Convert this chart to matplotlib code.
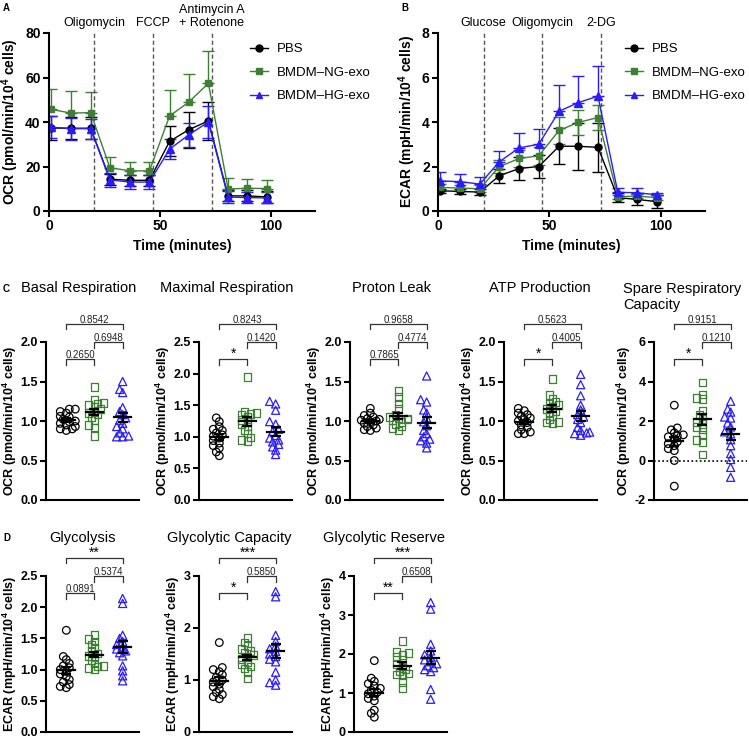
import matplotlib.pyplot as plt
import numpy as np
from matplotlib.lines import Line2D

plt.rcParams['font.family'] = ['Liberation Sans', 'DejaVu Sans']
plt.rcParams['mathtext.fontset'] = 'custom'
plt.rcParams['mathtext.rm'] = 'Liberation Sans'
plt.rcParams['mathtext.bf'] = 'Liberation Sans:bold'

W, H = 749, 738

groups = ["PBS", "BMDM–NG-exo", "BMDM–HG-exo"]
colors = ["black", "#3f7f35", "#2a1cff"]
line_markers = ["o", "s", "^"]

# time course (A, B)
minutes = [1.0, 9.8, 18.8, 27.5, 36.5, 45.3, 54.4, 63.0, 71.9, 80.8, 89.5, 98.4]
inject_a = [20.5, 46.7, 73.4]
inject_a_names = ["Oligomycin", "FCCP", "Antimycin A\n+ Rotenone"]
inject_b_names = ["Glucose", "Oligomycin", "2-DG"]

ocr_pbs = [37.3, 37.2, 37.2, 14.3, 13.8, 13.8, 31.3, 36.5, 40.5, 6.8, 6.8, 6.3]
ocr_ng = [45.7, 44.0, 44.2, 19.4, 18.1, 18.0, 42.7, 48.9, 57.4, 9.9, 10.2, 10.1]
ocr_hg = [37.7, 37.0, 37.0, 14.0, 13.0, 13.0, 27.8, 34.2, 40.0, 6.3, 6.0, 5.9]
ocr_pbs_err = [5.5, 5.0, 5.0, 2.5, 2.5, 2.5, 6.8, 8.0, 8.5, 2.5, 2.5, 2.5]
ocr_ng_err = [9.0, 10.0, 9.5, 5.0, 4.0, 4.0, 11.5, 12.5, 14.5, 5.0, 4.0, 4.0]
ocr_hg_err = [5.0, 5.0, 4.5, 3.0, 3.0, 3.0, 4.5, 5.3, 7.0, 2.5, 2.5, 2.5]

ecar_pbs = [0.91, 0.88, 0.85, 1.58, 1.91, 2.00, 2.91, 2.91, 2.86, 0.60, 0.52, 0.42]
ecar_ng = [1.06, 1.03, 1.00, 1.99, 2.36, 2.48, 3.62, 3.98, 4.20, 0.64, 0.67, 0.60]
ecar_hg = [1.35, 1.32, 1.21, 2.21, 2.84, 3.00, 4.48, 4.87, 5.16, 0.84, 0.82, 0.73]
ecar_pbs_err = [0.10, 0.10, 0.15, 0.30, 0.50, 0.50, 0.80, 1.05, 1.10, 0.20, 0.25, 0.30]
ecar_ng_err = [0.15, 0.15, 0.15, 0.30, 0.40, 0.40, 0.60, 0.55, 0.55, 0.10, 0.10, 0.10]
ecar_hg_err = [0.40, 0.35, 0.30, 0.50, 0.67, 0.70, 1.20, 1.20, 1.35, 0.20, 0.20, 0.10]

# per-animal values (C, D)
basal_pbs = [1.15, 1.15, 1.12, 1.10, 1.06, 1.05, 1.02, 1.00, 0.99, 0.97, 0.95, 0.93, 0.90, 0.90, 0.88]
basal_ng = [1.43, 1.27, 1.23, 1.22, 1.20, 1.18, 1.15, 1.12, 1.10, 1.08, 1.05, 1.01, 0.95, 0.92, 0.81]
basal_hg = [1.50, 1.40, 1.36, 1.17, 1.12, 1.08, 1.04, 1.01, 0.97, 0.93, 0.90, 0.85, 0.81, 0.80, 0.80]

maximal_pbs = [1.30, 1.24, 1.16, 1.12, 1.10, 1.06, 1.03, 1.01, 0.98, 0.94, 0.90, 0.86, 0.82, 0.76, 0.70]
maximal_ng = [1.95, 1.40, 1.38, 1.36, 1.35, 1.31, 1.27, 1.24, 1.20, 1.16, 1.11, 1.05, 0.99, 0.95, 0.93]
maximal_hg = [1.56, 1.52, 1.42, 1.24, 1.20, 1.12, 1.08, 1.02, 0.98, 0.95, 0.92, 0.88, 0.84, 0.79, 0.72]

proton_pbs = [1.16, 1.10, 1.07, 1.05, 1.03, 1.02, 1.01, 1.00, 0.99, 0.97, 0.95, 0.93, 0.91, 0.89, 0.88]
proton_ng = [1.38, 1.30, 1.22, 1.15, 1.08, 1.05, 1.03, 1.02, 1.03, 1.01, 0.99, 0.96, 0.93, 0.91, 0.88]
proton_hg = [1.57, 1.27, 1.24, 1.14, 1.10, 1.04, 0.99, 0.94, 0.88, 0.84, 0.80, 0.77, 0.75, 0.72, 0.66]

atp_pbs = [1.16, 1.13, 1.10, 1.08, 1.06, 1.04, 1.02, 1.00, 0.98, 0.95, 0.92, 0.89, 0.86, 0.84, 0.84]
atp_ng = [1.53, 1.33, 1.28, 1.24, 1.22, 1.20, 1.18, 1.15, 1.12, 1.10, 1.06, 1.02, 0.99, 0.98, 0.97]
atp_hg = [1.59, 1.46, 1.32, 1.20, 1.14, 1.08, 1.05, 1.02, 0.98, 0.92, 0.88, 0.86, 0.85, 0.84, 0.82]

spare_pbs = [2.80, 1.65, 1.55, 1.40, 1.30, 1.25, 1.20, 1.10, 0.95, 0.85, 0.75, 0.60, 0.50, 0.00, -1.30]
spare_ng = [3.95, 3.35, 3.15, 3.10, 2.50, 2.30, 2.10, 1.95, 1.85, 1.70, 1.60, 1.30, 1.05, 0.95, 0.30]
spare_hg = [3.00, 2.60, 2.45, 2.20, 2.15, 1.90, 1.70, 1.45, 1.35, 1.05, 0.75, 0.35, 0.05, -0.35, -0.85]

glyco_pbs = [1.63, 1.21, 1.16, 1.10, 1.06, 1.03, 1.00, 0.97, 0.93, 0.89, 0.84, 0.80, 0.76, 0.73, 0.71]
glyco_ng = [1.55, 1.49, 1.45, 1.40, 1.35, 1.30, 1.26, 1.22, 1.20, 1.15, 1.10, 1.06, 1.05, 1.03, 1.00]
glyco_hg = [2.14, 2.06, 1.55, 1.50, 1.45, 1.40, 1.36, 1.33, 1.30, 1.27, 1.22, 1.06, 0.98, 0.90, 0.82]

gcap_pbs = [1.72, 1.24, 1.20, 1.16, 1.10, 1.05, 1.00, 0.96, 0.92, 0.87, 0.82, 0.76, 0.72, 0.68, 0.64]
gcap_ng = [1.82, 1.72, 1.65, 1.60, 1.56, 1.52, 1.48, 1.44, 1.40, 1.35, 1.30, 1.26, 1.22, 1.15, 1.03]
gcap_hg = [2.70, 2.60, 1.86, 1.74, 1.65, 1.60, 1.55, 1.50, 1.45, 1.40, 1.35, 1.15, 1.00, 0.95, 0.90]

gres_pbs = [1.83, 1.38, 1.30, 1.24, 1.18, 1.12, 1.07, 1.02, 0.98, 0.92, 0.86, 0.80, 0.56, 0.48, 0.38]
gres_ng = [2.33, 2.05, 2.02, 1.98, 1.92, 1.85, 1.75, 1.68, 1.60, 1.55, 1.50, 1.47, 1.45, 1.28, 1.13]
gres_hg = [3.32, 3.15, 2.25, 2.08, 1.98, 1.92, 1.85, 1.80, 1.75, 1.70, 1.65, 1.60, 1.55, 1.09, 0.84]

# labels for PBS vs NG, NG vs HG, PBS vs HG
basal_p = ["0.2650", "0.6948", "0.8542"]
maximal_p = ["*", "0.1420", "0.8243"]
proton_p = ["0.7865", "0.4774", "0.9658"]
atp_p = ["*", "0.4005", "0.5623"]
spare_p = ["*", "0.1210", "0.9151"]
glyco_p = ["0.0891", "0.5374", "**"]
gcap_p = ["*", "0.5850", "***"]
gres_p = ["**", "0.6508", "***"]

ocr_label = "OCR (pmol/min/10$^{\\mathbf{4}}$ cells)"
ecar_label = "ECAR (mpH/min/10$^{\\mathbf{4}}$ cells)"


def rect(l, t, r, b):
    return [l / W, 1 - b / H, (r - l) / W, (b - t) / H]


def style(ax, size):
    for s in ["top", "right"]:
        ax.spines[s].set_visible(False)
    for s in ["left", "bottom"]:
        ax.spines[s].set_linewidth(1.5)
    ax.tick_params(width=1.5, length=4, labelsize=size, pad=2)
    for t in ax.get_xticklabels() + ax.get_yticklabels():
        t.set_fontweight("bold")


def swarm(vals, center, ypx, xpx, step=3.0, gap=4.2):
    vals = np.asarray(vals, float)
    xs = np.full(len(vals), float(center))
    placed = []
    for i in np.argsort(vals):
        y = vals[i] * ypx
        for k in [0, -1, 1, -2, 2, -3, 3]:
            x = k * step
            if all((x - px) ** 2 + (y - py) ** 2 >= gap ** 2 for px, py in placed):
                break
        placed.append((x, y))
        xs[i] = center + x / xpx
    return xs


fig = plt.figure(figsize=(W / 100, H / 100), dpi=100)


def time_panel(box, series, errs, up_only, ylim, yticks, ylabel, names, legend_at):
    ax = fig.add_axes(rect(*box))
    for vals, err, c, m, up in zip(series, errs, colors, line_markers, up_only):
        yerr = [np.zeros(len(err)), err] if up else err
        ax.errorbar(minutes, vals, yerr=yerr, color=c, marker=m, ms=5 if m != "^" else 5.5,
                    lw=1, elinewidth=1, capsize=4, capthick=1)
    for t, name in zip(inject_a, names):
        ax.axvline(t, color="#555555", ls=(0, (3, 2)), lw=1)
        ax.text(t, 1.025, name, transform=ax.get_xaxis_transform(), ha="center", va="bottom",
                fontsize=9, linespacing=1.05)
    ax.set_xlim(0, 120)
    ax.set_ylim(*ylim)
    ax.set_xticks([0, 50, 100])
    ax.set_yticks(yticks)
    ax.set_xlabel("Time (minutes)", fontsize=10, fontweight="bold", labelpad=4)
    ax.set_ylabel(ylabel, fontsize=10, fontweight="bold", labelpad=3)
    style(ax, 10)
    handles = [Line2D([], [], color=c, marker=m, ms=5, lw=1) for c, m in zip(colors, line_markers)]
    ax.legend(handles, groups, loc="upper left", bbox_to_anchor=(legend_at[0] / W, 1 - legend_at[1] / H),
              bbox_transform=fig.transFigure, frameon=False, fontsize=9.5, handlelength=1.4,
              labelspacing=0.85, borderaxespad=0, borderpad=0, handletextpad=0.6)
    return ax


time_panel((49, 33, 315, 211), [ocr_pbs, ocr_ng, ocr_hg], [ocr_pbs_err, ocr_ng_err, ocr_hg_err],
           [False, True, False], (0, 80), [0, 20, 40, 60, 80], ocr_label, inject_a_names, (250, 43))
time_panel((438, 33, 705, 211), [ecar_pbs, ecar_ng, ecar_hg], [ecar_pbs_err, ecar_ng_err, ecar_hg_err],
           [False, False, True], (0, 8), [0, 2, 4, 6, 8], ecar_label, inject_b_names, (625, 43))


def dot_panel(box, data, pvals, ylim, yticks, ylabel, fmt, zero_line=False):
    ax = fig.add_axes(rect(*box))
    axw, axh = box[2] - box[0], box[3] - box[1]
    xlim = (-0.72, 2.58)
    xpx = axw / (xlim[1] - xlim[0])
    ypx = axh / (ylim[1] - ylim[0])
    if zero_line:
        ax.axhline(0, color="black", ls=(0, (1, 1.5)), lw=1.2)
    mk = ["o", "s", "^"]
    for g, (vals, c, m) in enumerate(zip(data, colors, mk)):
        xs = swarm(vals, g, ypx, xpx)
        ax.scatter(xs, vals, s=30 if m != "^" else 34, marker=m, facecolors="none",
                   edgecolors=c, linewidths=0.9, zorder=3)
        mean = np.mean(vals)
        sem = np.std(vals, ddof=1) / np.sqrt(len(vals))
        ax.plot([g - 0.3, g + 0.3], [mean, mean], color="black", lw=1.6, zorder=4)
        ax.errorbar([g], [mean], yerr=[sem], color="black", lw=1.6, capsize=3.5, capthick=1.6, zorder=4)
    ax.set_xlim(*xlim)
    ax.set_ylim(*ylim)
    ax.set_xticks([])
    ax.set_yticks(yticks)
    ax.set_yticklabels([fmt.format(v) for v in yticks])
    ax.set_ylabel(ylabel, fontsize=9, fontweight="bold", labelpad=1)
    style(ax, 9)
    tr = ax.get_xaxis_transform()
    for (a, b), lvl, lab in zip([(0, 1), (1, 2), (0, 2)], [-17, 0, 18], pvals):
        y = 1 + lvl / axh
        leg = 6 / axh if lvl < 10 else 5 / axh
        ax.plot([a, a, b, b], [y - leg, y, y, y - leg], color="#333333", lw=0.9,
                transform=tr, clip_on=False)
        if "*" in lab:
            ax.text((a + b) / 2, y - 1.5 / axh, lab, transform=tr, ha="center", va="bottom",
                    fontsize=10)
        else:
            ax.text((a + b) / 2, y - 1 / axh, lab, transform=tr, ha="center", va="bottom",
                    fontsize=7, color="#222222")
    return ax


dot_panel((46, 342, 139, 500), [basal_pbs, basal_ng, basal_hg], basal_p, (0, 2),
          [0, 0.5, 1.0, 1.5, 2.0], ocr_label, "{:.1f}")
dot_panel((199, 342, 292, 500), [maximal_pbs, maximal_ng, maximal_hg], maximal_p, (0, 2.5),
          [0, 0.5, 1.0, 1.5, 2.0, 2.5], ocr_label, "{:.1f}")
dot_panel((350, 342, 443, 500), [proton_pbs, proton_ng, proton_hg], proton_p, (0, 2),
          [0, 0.5, 1.0, 1.5, 2.0], ocr_label, "{:.1f}")
dot_panel((504, 342, 597, 500), [atp_pbs, atp_ng, atp_hg], atp_p, (0, 2),
          [0, 0.5, 1.0, 1.5, 2.0], ocr_label, "{:.1f}")
dot_panel((654, 342, 747, 500), [spare_pbs, spare_ng, spare_hg], spare_p, (-2, 6),
          [-2, 0, 2, 4, 6], ocr_label, "{:.0f}", zero_line=True)

dot_panel((46, 576, 139, 732), [glyco_pbs, glyco_ng, glyco_hg], glyco_p, (0, 2.5),
          [0, 0.5, 1.0, 1.5, 2.0, 2.5], ecar_label, "{:.1f}")
dot_panel((199, 576, 292, 732), [gcap_pbs, gcap_ng, gcap_hg], gcap_p, (0, 3),
          [0, 1, 2, 3], ecar_label, "{:.0f}")
dot_panel((354, 576, 447, 732), [gres_pbs, gres_ng, gres_hg], gres_p, (0, 4),
          [0, 1, 2, 3, 4], ecar_label, "{:.0f}")


def ftext(x, y, s, **kw):
    fig.text(x / W, 1 - y / H, s, **kw)


for x, y, s in [(3, 8, "A"), (401, 8, "B"), (3, 289, "C"), (3, 538, "D")]:
    ftext(x, y, s, fontsize=7, fontweight="bold", va="center")

for x, s in zip([79, 227, 392, 540], ["Basal Respiration", "Maximal Respiration", "Proton Leak",
                                       "ATP Production"]):
    ftext(x, 288, s, fontsize=10.5, ha="center", va="center")
ftext(623, 297, "Spare Respiratory\nCapacity", fontsize=10.5, ha="left", va="center", linespacing=1.2)
for x, s in zip([82, 229, 384], ["Glycolysis", "Glycolytic Capacity", "Glycolytic Reserve"]):
    ftext(x, 538, s, fontsize=10.5, ha="center", va="center")

fig.savefig("out.png", dpi=100)
